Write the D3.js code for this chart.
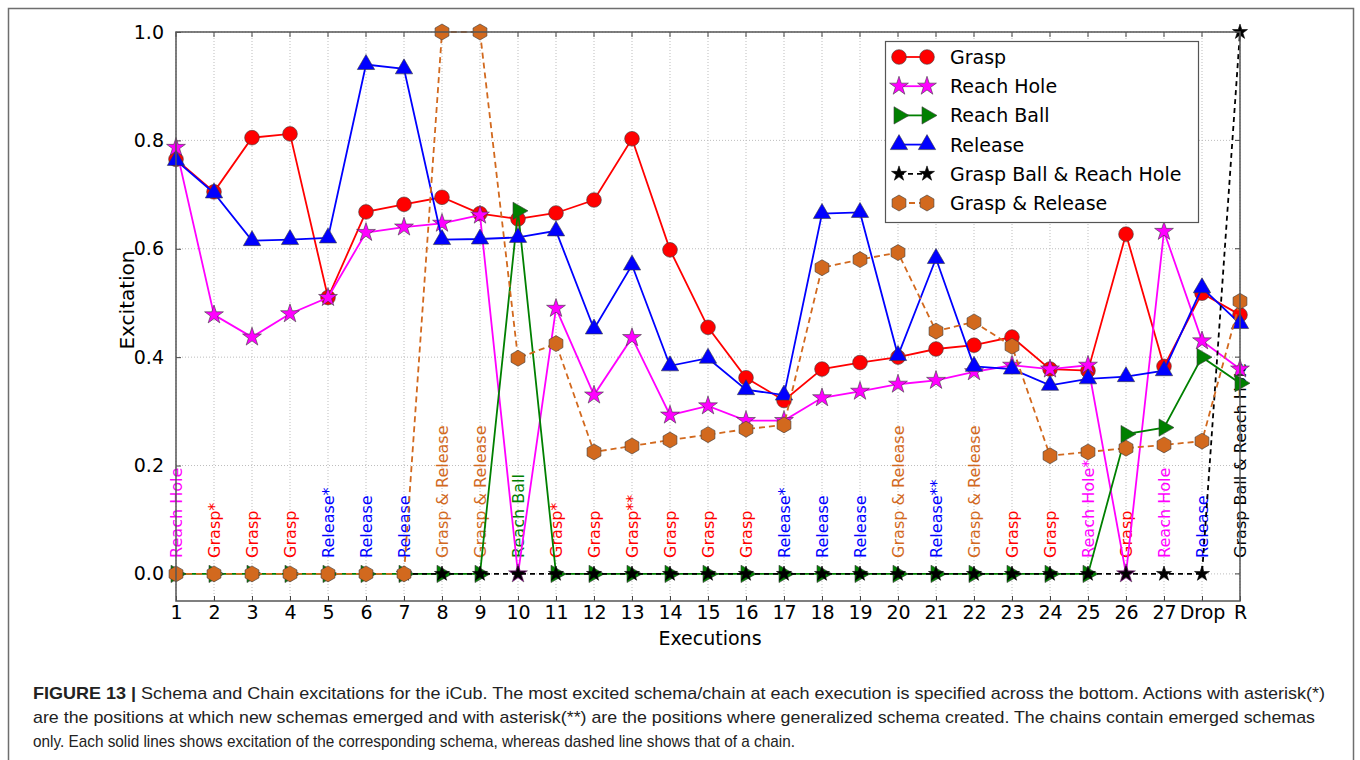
<!DOCTYPE html>
<html>
<head>
<meta charset="utf-8">
<script src="https://cdn.jsdelivr.net/npm/d3@7"></script>
<style>
  body { margin: 0; background: #fff; }
  svg { display: block; }
</style>
</head>
<body>
<svg id="chart" width="1360" height="760"></svg>
<script>
// Executions along the x axis
const executions = ["1","2","3","4","5","6","7","8","9","10","11","12","13","14","15",
  "16","17","18","19","20","21","22","23","24","25","26","27","Drop","R"];

// Schema excitations
const grasp = [0.765,0.705,0.805,0.812,0.510,0.668,0.682,0.695,0.665,0.655,0.666,0.690,0.803,0.598,0.455,
  0.362,0.320,0.378,0.390,0.400,0.415,0.422,0.437,0.378,0.375,0.627,0.383,0.518,0.478];
const reachHole = [0.787,0.478,0.437,0.480,0.510,0.630,0.640,0.647,0.662,0.000,0.490,0.330,0.436,0.293,0.310,
  0.283,0.283,0.325,0.337,0.350,0.357,0.373,0.385,0.378,0.385,0.000,0.632,0.430,0.378];
const reachBall = [0,0,0,0,0,0,0,0,0,0.670,0,0,0,0,0,
  0,0,0,0,0,0,0,0,0,0,0.258,0.270,0.400,0.352];
const release = [0.763,0.703,0.615,0.617,0.620,0.940,0.932,0.617,0.618,0.621,0.633,0.452,0.570,0.384,0.398,
  0.340,0.330,0.665,0.667,0.403,0.582,0.383,0.378,0.348,0.360,0.364,0.375,0.528,0.462];
// Chain excitations
const graspBallReachHole = [null,null,null,null,null,null,0,0,0,0,0,0,0,0,0,
  0,0,0,0,0,0,0,0,0,0,0,0,0,1.0];
const graspRelease = [0,0,0,0,0,0,0,1.0,1.0,0.398,0.425,0.225,0.236,0.247,0.257,
  0.267,0.275,0.565,0.580,0.593,0.448,0.465,0.420,0.218,0.225,0.232,0.238,0.245,0.503];

// Most excited schema/chain at each execution
const winners = ["Reach Hole","Grasp*","Grasp","Grasp","Release*","Release","Release","Grasp & Release",
  "Grasp & Release","Reach Ball","Grasp*","Grasp","Grasp**","Grasp","Grasp","Grasp","Release*","Release",
  "Release","Grasp & Release","Release**","Grasp & Release","Grasp","Grasp","Reach Hole*","Grasp",
  "Reach Hole","Release","Grasp Ball & Reach Hole"];

const yTicks = [0.0, 0.2, 0.4, 0.6, 0.8, 1.0];

const captionLines = [
  "Schema and Chain excitations for the iCub. The most excited schema/chain at each execution is specified across the bottom. Actions with asterisk(*)",
  "are the positions at which new schemas emerged and with asterisk(**) are the positions where generalized schema created. The chains contain emerged schemas",
  "only. Each solid lines shows excitation of the corresponding schema, whereas dashed line shows that of a chain."
];

const colors = {
  "Grasp": "#ff0000",
  "Reach Hole": "#ff00ff",
  "Reach Ball": "#008000",
  "Release": "#0000ff",
  "Grasp Ball & Reach Hole": "#000000",
  "Grasp & Release": "#d2691e"
};

const series = [
  { name: "Grasp", values: grasp, marker: "circle", dash: null },
  { name: "Reach Hole", values: reachHole, marker: "star", dash: null },
  { name: "Reach Ball", values: reachBall, marker: "triRight", dash: null },
  { name: "Release", values: release, marker: "triUp", dash: null },
  { name: "Grasp Ball & Reach Hole", values: graspBallReachHole, marker: "smallStar", dash: "5,4" },
  { name: "Grasp & Release", values: graspRelease, marker: "hexagon", dash: "6,4" }
];

const svg = d3.select("#chart");
const font = "'DejaVu Sans', sans-serif";

// Figure frame
svg.append("rect").attr("x", 8.5).attr("y", 8.5).attr("width", 1345).attr("height", 760)
  .attr("fill", "none").attr("stroke", "#6e6e6e").attr("stroke-width", 1.5);

const plot = { left: 176, right: 1240, top: 32, bottom: 601 };
const x = d3.scalePoint().domain(executions).range([plot.left, plot.right]).padding(0);
const y = d3.scaleLinear().domain([-0.05, 1.0]).range([plot.bottom, plot.top]);

// Grid
const grid = svg.append("g").attr("stroke", "#bdbdbd").attr("stroke-width", 1).attr("stroke-dasharray", "1,2");
grid.selectAll("line.v").data(executions).join("line")
  .attr("x1", d => x(d)).attr("x2", d => x(d)).attr("y1", plot.top).attr("y2", plot.bottom);
grid.selectAll("line.h").data(yTicks).join("line")
  .attr("x1", plot.left).attr("x2", plot.right).attr("y1", d => y(d)).attr("y2", d => y(d));

// Axes (inward ticks, labels outside)
const yAxis = d3.axisLeft(y).tickValues(yTicks).tickFormat(d3.format(".1f")).tickSizeInner(-5).tickSizeOuter(0).tickPadding(12);
const gy = svg.append("g").attr("transform", `translate(${plot.left},0)`).call(yAxis);
gy.select(".domain").remove();
gy.selectAll("text").attr("font-family", font).attr("font-size", 19).attr("fill", "#000");
gy.selectAll("line").attr("stroke", "#444");

const xAxis = d3.axisBottom(x).tickSizeInner(-5).tickSizeOuter(0).tickPadding(4);
const gx = svg.append("g").attr("transform", `translate(0,${plot.bottom})`).call(xAxis);
gx.select(".domain").remove();
gx.selectAll("text").attr("font-family", font).attr("font-size", 19).attr("fill", "#000");
gx.selectAll("line").attr("stroke", "#444");

// Right/top inward ticks
svg.append("g").selectAll("line").data(yTicks).join("line")
  .attr("x1", plot.right).attr("x2", plot.right - 5).attr("y1", d => y(d)).attr("y2", d => y(d)).attr("stroke", "#444");
svg.append("g").selectAll("line").data(executions).join("line")
  .attr("x1", d => x(d)).attr("x2", d => x(d)).attr("y1", plot.top).attr("y2", plot.top + 5).attr("stroke", "#444");

// Axis titles
svg.append("text").attr("x", plot.left + (plot.right - plot.left) / 2 + 2).attr("y", 645)
  .attr("text-anchor", "middle").attr("font-family", font).attr("font-size", 19).text("Executions");
svg.append("text").attr("transform", `translate(134,300) rotate(-90)`)
  .attr("text-anchor", "middle").attr("font-family", font).attr("font-size", 20).text("Excitation");

// Marker shapes
function hexPath(r) {
  const pts = d3.range(6).map(i => {
    const a = -Math.PI / 2 + i * Math.PI / 3;
    return [r * Math.cos(a), r * Math.sin(a)];
  });
  return "M" + pts.map(p => p.join(",")).join("L") + "Z";
}
function markerPath(kind) {
  switch (kind) {
    case "circle": return d3.symbol(d3.symbolCircle, 170)();
    case "star": return d3.symbol(d3.symbolStar, 110)();
    case "smallStar": return d3.symbol(d3.symbolStar, 70)();
    case "triUp": return d3.symbol(d3.symbolTriangle, 130)();
    case "triRight": return d3.symbol(d3.symbolTriangle, 130)();
    case "hexagon": return hexPath(8);
  }
}
function markerRotation(kind) { return kind === "triRight" ? 90 : 0; }
function markerStroke(kind) { return kind === "smallStar" ? "#000" : "#3a3a3a"; }

// Winner labels across the bottom
const labelColor = name => colors[name.replace(/\*+$/, "")];
svg.append("g").selectAll("text").data(winners).join("text")
  .attr("transform", (d, i) => `translate(${x(executions[i]) + 6},${y(0) - 16}) rotate(-90)`)
  .attr("font-family", font).attr("font-size", 16)
  .attr("fill", d => labelColor(d))
  .text(d => d);

// Series
const line = d3.line().defined(d => d.v !== null).x(d => x(d.c)).y(d => y(d.v));
const clipId = "plotClip";
svg.append("clipPath").attr("id", clipId).append("rect")
  .attr("x", plot.left - 10).attr("y", plot.top - 10).attr("width", plot.right - plot.left + 20).attr("height", plot.bottom - plot.top + 10);

series.forEach(s => {
  const pts = s.values.map((v, i) => ({ c: executions[i], v }));
  const g = svg.append("g").attr("clip-path", `url(#${clipId})`);
  g.append("path").datum(pts).attr("d", line)
    .attr("fill", "none").attr("stroke", colors[s.name]).attr("stroke-width", 1.8)
    .attr("stroke-dasharray", s.dash);
  g.selectAll("path.m").data(pts.filter(p => p.v !== null)).join("path")
    .attr("class", "m")
    .attr("d", markerPath(s.marker))
    .attr("transform", p => `translate(${x(p.c)},${y(p.v)}) rotate(${markerRotation(s.marker)})`)
    .attr("fill", colors[s.name]).attr("stroke", markerStroke(s.marker)).attr("stroke-width", 0.6);
});

// Plot frame
svg.append("rect").attr("x", plot.left).attr("y", plot.top)
  .attr("width", plot.right - plot.left).attr("height", plot.bottom - plot.top)
  .attr("fill", "none").attr("stroke", "#555").attr("stroke-width", 1.5);

// Legend
const legend = svg.append("g");
legend.append("rect").attr("x", 885.5).attr("y", 41.5).attr("width", 313).attr("height", 181)
  .attr("fill", "#fff").attr("stroke", "#555").attr("stroke-width", 1.2);
series.forEach((s, i) => {
  const cy = 57 + i * 29.2;
  const row = legend.append("g");
  row.append("line").attr("x1", 899).attr("x2", 927).attr("y1", cy).attr("y2", cy)
    .attr("stroke", colors[s.name]).attr("stroke-width", 1.8).attr("stroke-dasharray", s.dash);
  [899, 927].forEach(mx => {
    row.append("path").attr("d", markerPath(s.marker))
      .attr("transform", `translate(${mx},${cy}) rotate(${markerRotation(s.marker)})`)
      .attr("fill", colors[s.name]).attr("stroke", markerStroke(s.marker)).attr("stroke-width", 0.6);
  });
  row.append("text").attr("x", 950).attr("y", cy + 7)
    .attr("font-family", font).attr("font-size", 19).text(s.name);
});

// Caption
const capFont = "'Liberation Sans Narrow', 'Arial Narrow', 'Liberation Sans', Arial, sans-serif";
const capWidths = [1292, 1282, 762];
captionLines.forEach((txt, i) => {
  const t = svg.append("text").attr("x", 33).attr("y", 699 + i * 24)
    .attr("font-family", capFont).attr("font-size", 17).attr("fill", "#222")
    .attr("textLength", capWidths[i]).attr("lengthAdjust", "spacingAndGlyphs");
  if (i === 0) {
    t.append("tspan").attr("font-weight", "bold").text("FIGURE 13 | ");
  }
  t.append("tspan").text(txt);
});
</script>
</body>
</html>
